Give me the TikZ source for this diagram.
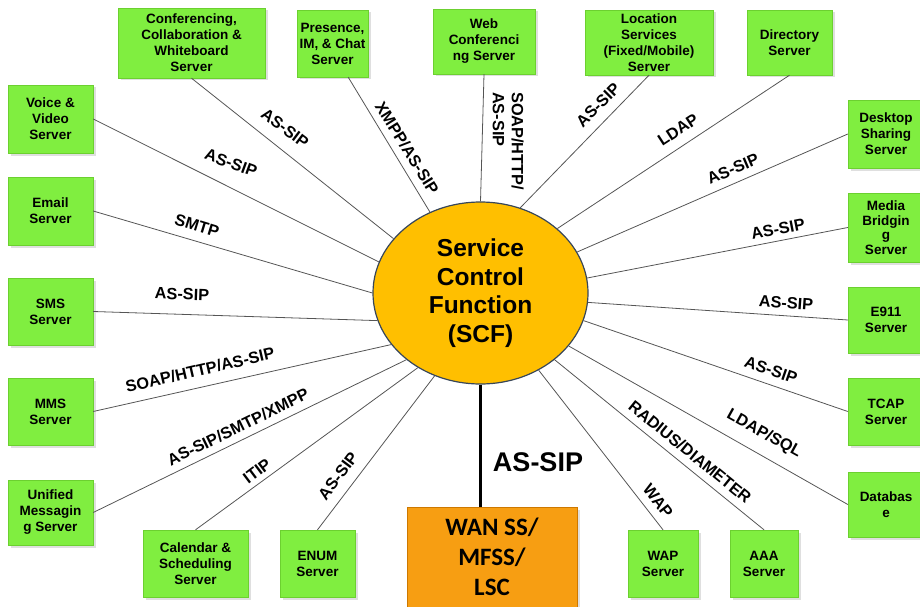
\documentclass[tikz,border=0pt]{standalone}
\usepackage{fontspec}
\setmainfont{Liberation Sans}
\newfontfamily\wanfont{Carlito}
\usetikzlibrary{shapes.geometric,shadows}

\definecolor{boxgreen}{RGB}{128,238,64}
\definecolor{boxedge}{RGB}{108,208,48}
\definecolor{scfgold}{RGB}{255,191,0}
\definecolor{scfedge}{RGB}{55,70,90}
\definecolor{wanorange}{RGB}{247,158,18}
\definecolor{wanedge}{RGB}{205,120,0}
\definecolor{linkgray}{RGB}{85,85,85}

\tikzset{
  srv/.style={rectangle, fill=boxgreen, draw=boxedge, line width=0.4pt,
    inner sep=0pt, align=center, font=\bfseries\fontsize{13.5}{16}\selectfont,
    drop shadow={shadow xshift=2.5pt, shadow yshift=-2.5pt, opacity=0.25}},
  link/.style={draw=linkgray, line width=0.8pt},
  proto/.style={font=\bfseries\fontsize{16.3}{19}\selectfont, inner sep=0pt},
}

\begin{document}
\begin{tikzpicture}[x=1pt, y=-1pt]
\useasboundingbox (0,0) rectangle (920,607);

% central function
\node[ellipse, fill=scfgold, draw=scfedge, line width=1.2pt, inner sep=0pt,
      minimum width=215pt, minimum height=182pt, align=center,
      font=\bfseries\fontsize{24.5}{28.5}\selectfont] (scf) at (480.5,293)
      {Service\\Control\\Function\\(SCF)};

% switch box below
\node[rectangle, fill=wanorange, draw=wanedge, line width=0.8pt, inner sep=0pt,
      minimum width=170pt, minimum height=100pt, align=center,
      font=\wanfont\bfseries\fontsize{25}{30}\selectfont,
      drop shadow={shadow xshift=2.5pt, shadow yshift=-2.5pt, opacity=0.25}]
      (wan) at (492,557) {WAN SS/\\MFSS/\\LSC};

% top row
\node[srv, minimum width=147pt, minimum height=70pt] (conf) at (191.5,43) {Conferencing,\\Collaboration \&\\Whiteboard\\Server};
\node[srv, minimum width=71pt, minimum height=67pt] (pres) at (332.5,43.5) {Presence,\\IM, \& Chat\\Server};
\node[srv, minimum width=102pt, minimum height=65pt] (web) at (484,41.5) {Web\\Conferenci\\ng Server};
\node[srv, minimum width=128pt, minimum height=65pt] (loc) at (649,42.5) {Location\\Services\\(Fixed/Mobile)\\Server};
\node[srv, minimum width=85pt, minimum height=65pt] (dir) at (789.5,42.5) {Directory\\Server};

% right column
\node[srv, minimum width=76pt, minimum height=68pt] (desk) at (886,134) {Desktop\\Sharing\\Server};
\node[srv, minimum width=76pt, minimum height=69pt, font=\bfseries\fontsize{13.5}{14.5}\selectfont] (media) at (886,227.5) {Media\\Bridgin\\g\\Server};
\node[srv, minimum width=76pt, minimum height=66pt] (e911) at (886,320) {E911\\Server};
\node[srv, minimum width=76pt, minimum height=67pt] (tcap) at (886,411.5) {TCAP\\Server};
\node[srv, minimum width=76pt, minimum height=65pt] (db) at (886,504.5) {Databas\\e};

% bottom row
\node[srv, minimum width=68pt, minimum height=67pt] (aaa) at (764,563.5) {AAA\\Server};
\node[srv, minimum width=70pt, minimum height=67pt] (wap) at (663,563.5) {WAP\\Server};
\node[srv, minimum width=75pt, minimum height=67pt] (enum) at (317.5,563.5) {ENUM\\Server};
\node[srv, minimum width=105pt, minimum height=67pt] (cal) at (195.5,563.5) {Calendar \&\\Scheduling\\Server};

% left column
\node[srv, minimum width=85pt, minimum height=65pt] (ums) at (50.5,512.5) {Unified\\Messagin\\g Server};
\node[srv, minimum width=85pt, minimum height=67pt] (mms) at (50.5,411.5) {MMS\\Server};
\node[srv, minimum width=85pt, minimum height=67pt] (sms) at (50.5,311.5) {SMS\\Server};
\node[srv, minimum width=85pt, minimum height=68pt] (email) at (50.5,211) {Email\\Server};
\node[srv, minimum width=85pt, minimum height=68pt] (voice) at (50.5,119) {Voice \&\\Video\\Server};

% connectors
\draw[link] (voice.east) -- (scf.163);
\draw[link] (conf.south) -- (scf.148);
\draw[link] (pres.-65) -- (scf.122);
\draw[link] (web.south) -- (scf.90);
\draw[link] (loc.south) -- (scf.65);
\draw[link] (dir.south) -- (scf.40.6);
\draw[link] (desk.west) -- (scf.23);
\draw[link] (media.west) -- (scf.8);
\draw[link] (e911.west) -- (scf.-5.3);
\draw[link] (tcap.west) -- (scf.-15.4);
\draw[link] (db.west) -- (scf.-31);
\draw[link] (aaa.north) -- (scf.-42);
\draw[link] (wap.north) -- (scf.-53);
\draw[link] (enum.north) -- (scf.-119.3);
\draw[link] (cal.north) -- (scf.-130.4);
\draw[link] (ums.east) -- (scf.-138.5);
\draw[link] (mms.east) -- (scf.-150.8);
\draw[link] (sms.east) -- (scf.-165.3);
\draw[link] (email.east) -- (scf.180);
\draw[line width=2.2pt, black] (scf.south) -- (scf.south |- wan.north);

% protocol labels
\node[proto, rotate=-20] (lvoice) at (231,163) {AS-SIP};
\node[proto, rotate=-37] (lconf) at (285,128) {AS-SIP};
\node[proto, rotate=-58] (lpres) at (407,148) {XMPP/AS-SIP};
\node[proto, rotate=-90, anchor=north west, align=left] (lweb) at (524,92) {SOAP/HTTP/\\AS-SIP};
\node[proto, rotate=45] (lloc) at (598,105) {AS-SIP};
\node[proto, rotate=33] (ldir) at (678,130) {LDAP};
\node[proto, rotate=23] (ldesk) at (733,169) {AS-SIP};
\node[proto, rotate=11] (lmedia) at (778,229) {AS-SIP};
\node[proto, rotate=-4] (le911) at (786,303) {AS-SIP};
\node[proto, rotate=-19] (ltcap) at (771,370) {AS-SIP};
\node[proto, rotate=-29] (ldb) at (764,434) {LDAP/SQL};
\node[proto, rotate=-39] (laaa) at (690,452) {RADIUS/DIAMETER};
\node[proto, rotate=-52] (lwap) at (658,501) {WAP};
\node[proto, rotate=53] (lenum) at (338,476) {AS-SIP};
\node[proto, rotate=37] (lcal) at (257,471) {ITIP};
\node[proto, rotate=26] (lums) at (238,427) {AS-SIP/SMTP/XMPP};
\node[proto, rotate=13] (lmms) at (200,370) {SOAP/HTTP/AS-SIP};
\node[proto, rotate=-2] (lsms) at (182,294) {AS-SIP};
\node[proto, rotate=-17] (lemail) at (197,226) {SMTP};
\node[inner sep=0pt, font=\bfseries\fontsize{27}{30}\selectfont] (lwan) at (538,462) {AS-SIP};
\end{tikzpicture}
\end{document}
